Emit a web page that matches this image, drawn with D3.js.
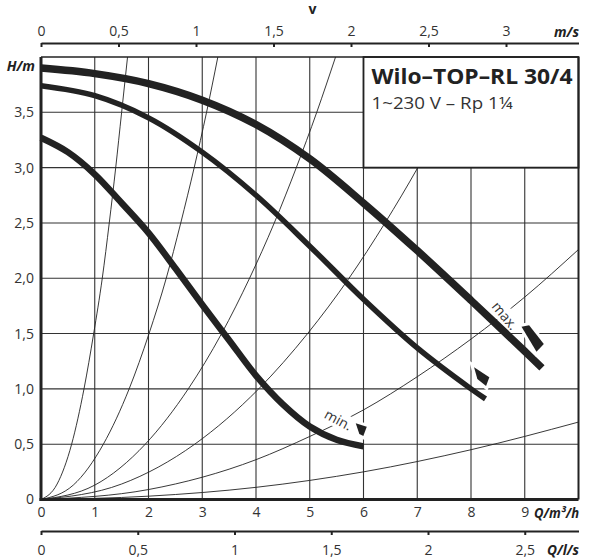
<!DOCTYPE html>
<html>
<head>
<meta charset="utf-8">
<script src="https://cdn.jsdelivr.net/npm/d3@7"></script>
<style>
  body { margin: 0; background: #fff; }
  svg { display: block; font-family: "Open Sans", "Noto Sans", sans-serif; }
</style>
</head>
<body>
<div id="chart"></div>
<script>
// tick values
const qTicks = [0, 1, 2, 3, 4, 5, 6, 7, 8, 9];
const hTicks = [0, 0.5, 1, 1.5, 2, 2.5, 3, 3.5];
const vTicks = [0, 0.5, 1, 1.5, 2, 2.5, 3];
const lsTicks = [0, 0.5, 1, 1.5, 2, 2.5];

// pump curves (Q in m3/h, H in m)
const maxQ = [0, 1, 2, 3, 4, 5, 6, 7, 8, 9, 9.32];
const maxH = [3.90, 3.85, 3.76, 3.61, 3.39, 3.08, 2.68, 2.25, 1.80, 1.34, 1.19];
const midQ = [0, 1, 2, 3, 4, 5, 6, 7, 8, 8.27];
const midH = [3.74, 3.65, 3.45, 3.14, 2.75, 2.29, 1.81, 1.37, 1.0, 0.91];
const minQ = [0, 0.5, 1, 1.5, 2, 2.5, 3, 3.5, 4, 4.5, 5, 5.5, 6];
const minH = [3.27, 3.14, 2.94, 2.68, 2.41, 2.09, 1.76, 1.44, 1.12, 0.86, 0.66, 0.54, 0.48];

// system curves
const sysA = { q: [0, 0.3, 0.57, 0.8, 0.98, 1.14, 1.27, 1.39, 1.5, 1.61], h: [0, 0.14, 0.5, 1, 1.5, 2, 2.5, 3, 3.5, 4] };
const sysB = { q: [0, 0.6, 1.16, 1.64, 2.01, 2.33, 2.6, 2.85, 3.08, 3.29], h: [0, 0.13, 0.5, 1, 1.5, 2, 2.5, 3, 3.5, 4] };
const sysC = { q: [0, 1, 1.94, 2.74, 3.36, 3.88, 4.34, 4.75, 5.13, 5.48], h: [0, 0.13, 0.5, 1, 1.5, 2, 2.5, 3, 3.5, 4] };
const sysD = { q: [0, 1.5, 2.86, 4.05, 4.96, 5.73, 6.4, 7.01, 7.57, 8.1], h: [0, 0.14, 0.5, 1, 1.5, 2, 2.5, 3, 3.5, 4] };
const sysE = { q: [0, 2, 4, 5, 6, 7, 8, 9, 10], h: [0, 0.09, 0.36, 0.57, 0.81, 1.11, 1.45, 1.83, 2.26] };
const sysF = { q: [0, 2, 4, 6, 8, 10], h: [0, 0.03, 0.11, 0.25, 0.45, 0.70] };

// curve labels and end markers
const labelText = ["max.", "min."];
const labelQ = [8.63, 5.53];
const labelH = [1.66, 0.72];
const markerQ = [9.15, 8.2, 5.96];
const markerH = [1.455, 1.104, 0.628];

const width = 594, height = 560;
const svg = d3.select("#chart").append("svg")
  .attr("width", width).attr("height", height);

const x = d3.scaleLinear().domain([0, 10]).range([41, 578.5]);
const y = d3.scaleLinear().domain([0, 4]).range([499.5, 57]);
const v = d3.scaleLinear().domain([0, 537.5 / 155]).range([41, 578.5]);
const ls = d3.scaleLinear().domain([0, 10 / 3.6]).range([41, 578.5]);
const comma = d => String(d).replace(".", ",");
const commaH = d => d === 0 ? "0" : d3.format(".1f")(d).replace(".", ",");
const ink = "#222";

svg.append("clipPath").attr("id", "plot")
  .append("rect").attr("x", x(0)).attr("y", y(4))
  .attr("width", x(10) - x(0)).attr("height", y(0) - y(4));

// grid
svg.append("g").selectAll("line").data(qTicks.slice(1)).join("line")
  .attr("x1", d => x(d)).attr("x2", d => x(d))
  .attr("y1", y(0)).attr("y2", y(4))
  .attr("stroke", "#333").attr("stroke-width", 1.1);
svg.append("g").selectAll("line").data(hTicks.slice(1)).join("line")
  .attr("x1", x(0)).attr("x2", x(10))
  .attr("y1", d => y(d)).attr("y2", d => y(d))
  .attr("stroke", "#333").attr("stroke-width", 1.1);

// system curves
const sysLine = d3.line().x(d => x(d[0])).y(d => y(d[1])).curve(d3.curveMonotoneX);
const systems = [sysA, sysB, sysC, sysD, sysE, sysF].map(s => s.q.map((q, i) => [q, s.h[i]]));
svg.append("g").attr("clip-path", "url(#plot)")
  .selectAll("path").data(systems).join("path")
  .attr("d", sysLine).attr("fill", "none")
  .attr("stroke", ink).attr("stroke-width", 0.9);

// title box
svg.append("rect")
  .attr("x", x(6)).attr("y", y(4))
  .attr("width", x(10) - x(6)).attr("height", y(3) - y(4))
  .attr("fill", "#fff").attr("stroke", ink).attr("stroke-width", 1.8);
svg.append("text").attr("x", 371.5).attr("y", 83.5)
  .attr("font-size", 22).attr("font-weight", 700).attr("fill", ink)
  .attr("textLength", 201).attr("lengthAdjust", "spacingAndGlyphs")
  .text("Wilo–TOP–RL 30/4");
svg.append("text").attr("x", 371.5).attr("y", 108.5)
  .attr("font-size", 17).attr("fill", "#333")
  .attr("textLength", 141).attr("lengthAdjust", "spacingAndGlyphs")
  .text("1~230 V – Rp 1¼");

// frame
svg.append("line").attr("x1", x(0)).attr("x2", x(10)).attr("y1", y(4)).attr("y2", y(4))
  .attr("stroke", ink).attr("stroke-width", 1.5);
svg.append("line").attr("x1", x(10)).attr("x2", x(10)).attr("y1", y(4)).attr("y2", y(0))
  .attr("stroke", ink).attr("stroke-width", 2);

// label backings and labels
const labels = labelText.map((t, i) => ({ t, q: labelQ[i], h: labelH[i], a: i === 0 ? 50 : 28 }));
const lg = svg.append("g").selectAll("g").data(labels).join("g")
  .attr("transform", d => `translate(${x(d.q)},${y(d.h)}) rotate(${d.a})`);
lg.append("rect").attr("x", -17).attr("y", -9).attr("width", 34).attr("height", 17).attr("fill", "#fff");
lg.append("text").attr("text-anchor", "middle").attr("dy", "0.35em")
  .attr("font-size", 14).attr("fill", "#333").text(d => d.t);

// pump curves
const pumpLine = d3.line().x(d => x(d[0])).y(d => y(d[1])).curve(d3.curveCatmullRom.alpha(0.5));
const pumps = [
  { q: maxQ, h: maxH, w: 7.5 },
  { q: midQ, h: midH, w: 5.5 },
  { q: minQ, h: minH, w: 6.5 }
];
svg.append("g").selectAll("path").data(pumps).join("path")
  .attr("d", p => pumpLine(p.q.map((q, i) => [q, p.h[i]])))
  .attr("fill", "none").attr("stroke", ink)
  .attr("stroke-width", p => p.w).attr("stroke-linecap", "butt");

// end markers
const markerShapes = [
  [[-11.3, -11.8], [-3.7, -13.2], [11, 5.5], [3.7, 13.2]],
  [[-7.7, -10.1], [7.6, -0.1], [4.3, 8.6], [-4.4, 1.6]],
  [[-5.6, -6.7], [5.4, -3.3], [2, 6], [-2, 4]]
];
svg.append("g").selectAll("polygon").data(markerQ).join("polygon")
  .attr("points", (d, i) => markerShapes[i]
    .map(p => [x(d) + p[0], y(markerH[i]) + p[1]].join(",")).join(" "))
  .attr("fill", ink).attr("stroke", "#fff").attr("stroke-width", 6)
  .attr("paint-order", "stroke");

// axes
const axisText = g => g.selectAll("text")
  .attr("font-size", 14).attr("fill", "#333").attr("font-family", "Open Sans, Noto Sans, sans-serif");

svg.append("g").attr("transform", `translate(0,${y(0)})`)
  .call(d3.axisBottom(x).tickValues(qTicks).tickSize(0).tickPadding(8).tickFormat(comma))
  .call(g => g.select(".domain").remove())
  .call(axisText);
svg.append("g").attr("transform", `translate(${x(0)},0)`)
  .call(d3.axisLeft(y).tickValues(hTicks).tickSize(0).tickPadding(7).tickFormat(commaH))
  .call(g => g.select(".domain").remove())
  .call(axisText);
svg.append("line").attr("x1", x(0)).attr("x2", x(0)).attr("y1", y(4)).attr("y2", y(0) + 1.5)
  .attr("stroke", ink).attr("stroke-width", 3);
svg.append("line").attr("x1", x(0) - 1.5).attr("x2", x(10)).attr("y1", y(0)).attr("y2", y(0))
  .attr("stroke", ink).attr("stroke-width", 3);

const vAxis = svg.append("g").attr("transform", "translate(0,43)")
  .call(d3.axisTop(v).tickValues(vTicks).tickSizeInner(-4).tickSizeOuter(0).tickPadding(7).tickFormat(comma))
  .call(axisText);
vAxis.select(".domain").attr("stroke", ink).attr("stroke-width", 2);
vAxis.selectAll(".tick line").attr("stroke", ink).attr("stroke-width", 2);

const lsAxis = svg.append("g").attr("transform", "translate(0,531)")
  .call(d3.axisBottom(ls).tickValues(lsTicks).tickSizeInner(4).tickSizeOuter(0).tickPadding(10.5).tickFormat(comma))
  .call(axisText);
lsAxis.select(".domain").attr("stroke", ink).attr("stroke-width", 2);
lsAxis.selectAll(".tick line").attr("stroke", ink).attr("stroke-width", 2);

// unit labels
const unit = (tx, ty, t, anchor, italic, len) => {
  const u = svg.append("text")
    .attr("x", tx).attr("y", ty).attr("text-anchor", anchor)
    .attr("font-size", 14).attr("font-weight", 700)
    .attr("font-style", italic ? "italic" : "normal").attr("fill", ink).text(t);
  if (len) u.attr("textLength", len).attr("lengthAdjust", "spacingAndGlyphs");
};
unit(35, 70.5, "H/m", "end", true);
unit(579, 518, "Q/m³/h", "end", true, 45);
unit(579, 555, "Q/l/s", "end", true, 32);
unit(579, 36.5, "m/s", "end", true, 25);
unit(312.5, 14, "v", "middle", false);
</script>
</body>
</html>
